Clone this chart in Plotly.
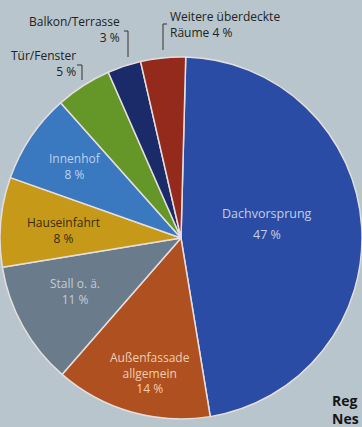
import plotly.graph_objects as go

# Shares of damage locations (percent), clockwise from 12 o'clock
categories = ["Dachvorsprung", "Außenfassade allgemein", "Stall o. ä.", "Hauseinfahrt",
              "Innenhof", "Tür/Fenster", "Balkon/Terrasse", "Weitere überdeckte Räume"]
values = [47, 14, 11, 8, 8, 5, 3, 4]
colors = ["#2a4ca4", "#ae5020", "#6a7b8c", "#c69a18", "#3a78c0", "#649628", "#1b2a68", "#932a1c"]

W, H = 362, 427
BG = "#b8c5cc"
FONT = "Open Sans"

fig = go.Figure(go.Pie(
    labels=categories,
    values=values,
    sort=False,
    direction="clockwise",
    rotation=1.5,
    marker=dict(colors=colors, line=dict(color="#e6dede", width=1.5)),
    textinfo="none",
    hoverinfo="label+value",
    domain=dict(x=[0, 1], y=[0.0187, 0.8665]),
    showlegend=False,
))


def px(x):
    return x / W


def py(y):
    return 1 - y / H


def label(text, x, y, color, size, anchor="center"):
    return dict(
        text=text, x=px(x), y=py(y), xref="paper", yref="paper",
        showarrow=False, xanchor=anchor, yanchor="middle", align=anchor,
        font=dict(family=FONT, size=size, color=color),
    )


# Labels inside the larger slices: (name text, x, y, colour)
inside = {
    "Außenfassade allgemein": ("Außenfassade<br>allgemein", 150, 373, "#f2cdb0"),
    "Stall o. ä.": ("Stall o. ä.", 75, 291, "#c4ccd4"),
    "Hauseinfahrt": ("Hauseinfahrt", 63, 230, "#3a2a10"),
    "Innenhof": ("Innenhof", 75, 166, "#bcd2ec"),
}

annotations = []
for cat, val in zip(categories, values):
    if cat == "Dachvorsprung":
        annotations.append(label(cat, 267, 213, "#c3cfe4", 12.5))
        annotations.append(label(f"{val} %", 267, 235, "#c3cfe4", 12.5))
    elif cat in inside:
        text, x, y, col = inside[cat]
        annotations.append(label(f"{text}<br>{val} %", x, y, col, 12))

# Callout labels for the narrow slices
outside = {
    "Tür/Fenster": ("Tür/Fenster<br>{v} %", 78, 64, "right"),
    "Balkon/Terrasse": ("Balkon/Terrasse<br>{v} %", 122, 30, "right"),
    "Weitere überdeckte Räume": ("Weitere überdeckte<br>Räume {v} %", 168, 25, "left"),
}
for cat, val in zip(categories, values):
    if cat in outside:
        tmpl, x, y, anchor = outside[cat]
        annotations.append(label(tmpl.format(v=val), x, y, "#222222", 12, anchor))

# Partially visible heading at the lower right
annotations.append(dict(
    text="<b>Reg</b><br><b>Nes</b>", x=px(330), y=py(409), xref="paper", yref="paper",
    showarrow=False, xanchor="left", yanchor="middle", align="left",
    font=dict(family=FONT, size=14, color="#151515"),
))

# Bracket lines next to the callouts
brackets = [
    [(77, 65), (82, 65), (82, 80)],
    [(124, 31), (128, 31), (128, 57)],
    [(167, 24), (163, 24), (163, 50)],
]
shapes = []
for pts in brackets:
    path = "M " + " L ".join(f"{px(x):.4f},{py(y):.4f}" for x, y in pts)
    shapes.append(dict(type="path", path=path, xref="paper", yref="paper",
                       line=dict(color="#333333", width=1)))

fig.update_layout(
    width=W, height=H,
    margin=dict(l=0, r=0, t=0, b=0),
    paper_bgcolor=BG,
    plot_bgcolor=BG,
    annotations=annotations,
    shapes=shapes,
    font=dict(family=FONT),
)

fig.write_html("out.html")
